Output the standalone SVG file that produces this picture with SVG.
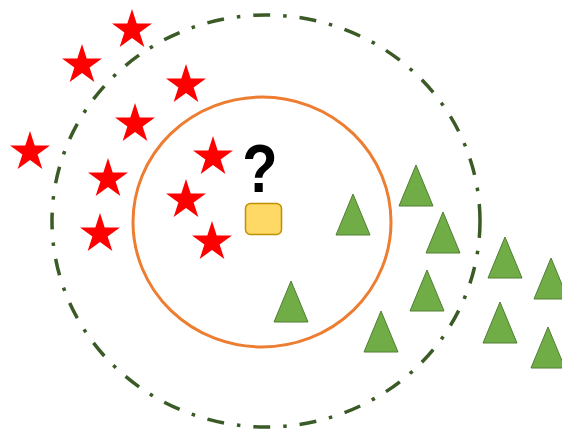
<svg xmlns="http://www.w3.org/2000/svg" xmlns:xlink="http://www.w3.org/1999/xlink" width="562" height="434" viewBox="0 0 562 434">
<style>
.star{fill:#FF0000;stroke:none}
.tri{fill:#70AD47;stroke:#507E32;stroke-width:1}
.outer{fill:none;stroke:#3A5A26;stroke-width:3.5;stroke-dasharray:17 13 3.5 13}
.inner{fill:none;stroke:#ED7D31;stroke-width:3}
.query{fill:#FFD966;stroke:#BF9000;stroke-width:1.5}
.q{font-family:"Liberation Sans",Arial,sans-serif;font-weight:bold;font-size:68px;fill:#000;text-anchor:middle}
</style>
<defs>
<path id="s" d="M0,-21 L4.7,-6.47 L19.97,-6.49 L7.61,2.47 L12.34,16.99 L0,8 L-12.34,16.99 L-7.61,2.47 L-19.97,-6.49 L-4.7,-6.47 Z"/>
<polygon id="t" points="0,0 17,41 -17,41"/>
</defs>
<rect width="562" height="434" fill="#fff"/>
<g id="boundaries">
<ellipse id="k-large" class="outer" cx="266" cy="221" rx="214" ry="206"/>
<ellipse id="k-small" class="inner" cx="262" cy="222" rx="129" ry="125"/>
</g>
<g id="stars">
<g id="star1"><use xlink:href="#s" class="star" x="132" y="30"/></g>
<g id="star2"><use xlink:href="#s" class="star" x="82" y="65"/></g>
<g id="star3"><use xlink:href="#s" class="star" x="186" y="85"/></g>
<g id="star4"><use xlink:href="#s" class="star" x="135" y="124"/></g>
<g id="star5"><use xlink:href="#s" class="star" x="30" y="152"/></g>
<g id="star6"><use xlink:href="#s" class="star" x="108" y="179"/></g>
<g id="star7"><use xlink:href="#s" class="star" x="213" y="157"/></g>
<g id="star8"><use xlink:href="#s" class="star" x="186" y="200"/></g>
<g id="star9"><use xlink:href="#s" class="star" x="100" y="234"/></g>
<g id="star10"><use xlink:href="#s" class="star" x="212" y="242"/></g>
</g>
<g id="triangles">
<g id="tri1"><use xlink:href="#t" class="tri" x="416" y="165"/></g>
<g id="tri2"><use xlink:href="#t" class="tri" x="353" y="194"/></g>
<g id="tri3"><use xlink:href="#t" class="tri" x="443" y="212"/></g>
<g id="tri4"><use xlink:href="#t" class="tri" x="505" y="237"/></g>
<g id="tri5"><use xlink:href="#t" class="tri" x="551" y="258"/></g>
<g id="tri6"><use xlink:href="#t" class="tri" x="291" y="281"/></g>
<g id="tri7"><use xlink:href="#t" class="tri" x="427" y="270"/></g>
<g id="tri8"><use xlink:href="#t" class="tri" x="381" y="311"/></g>
<g id="tri9"><use xlink:href="#t" class="tri" x="500" y="302"/></g>
<g id="tri10"><use xlink:href="#t" class="tri" x="548" y="327"/></g>
</g>
<g id="query">
<rect class="query" x="245.5" y="203.5" width="36" height="31" rx="5"/>
<text class="q" transform="translate(260,192) scale(0.85,1)" x="0" y="0">?</text>
</g>
</svg>
